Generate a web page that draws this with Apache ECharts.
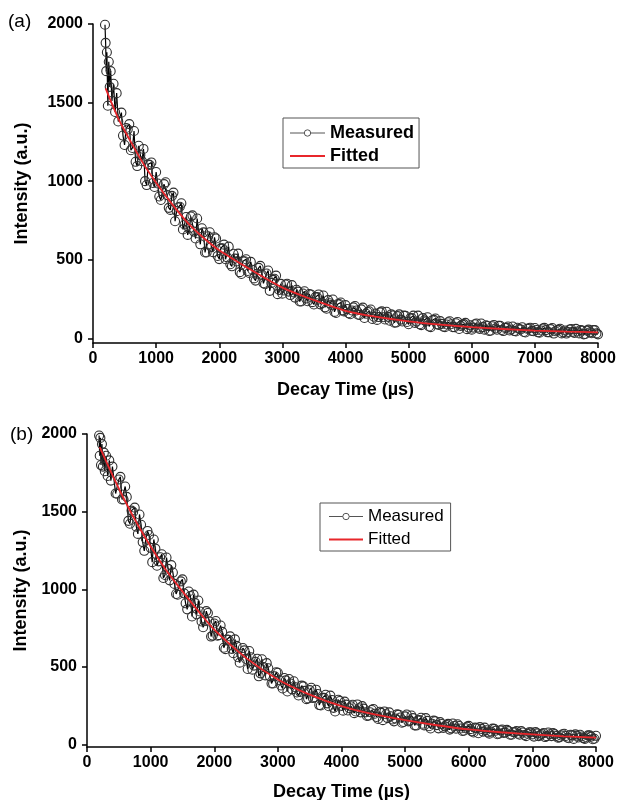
<!DOCTYPE html>
<html>
<head>
<meta charset="utf-8">
<script src="https://cdn.jsdelivr.net/npm/echarts@6/dist/echarts.min.js"></script>
<style>
    html, body { margin: 0; padding: 0; background: #fff; }
    #chart { width: 617px; height: 800px; }
</style>
</head>
<body>
<div id="chart"></div>
<script>
// decay time axis (µs), shared by both measurements
const decayTime = [
    190, 200, 210, 220, 235, 250, 265, 280, 300, 325,
    350, 375, 400, 450, 500, 550, 600, 650, 700, 750,
    800, 850, 900, 950, 1000, 1050, 1100, 1150, 1200, 1250,
    1300, 1350, 1400, 1450, 1500, 1550, 1600, 1650, 1700, 1750,
    1800, 1850, 1900, 1950, 2000, 2050, 2100, 2150, 2200, 2250,
    2300, 2350, 2400, 2450, 2500, 2550, 2600, 2650, 2700, 2750,
    2800, 2850, 2900, 2950, 3000, 3050, 3100, 3150, 3200, 3250,
    3300, 3350, 3400, 3450, 3500, 3550, 3600, 3650, 3700, 3750,
    3800, 3850, 3900, 3950, 4000, 4050, 4100, 4150, 4200, 4250,
    4300, 4350, 4400, 4450, 4500, 4550, 4600, 4650, 4700, 4750,
    4800, 4850, 4900, 4950, 5000, 5050, 5100, 5150, 5200, 5250,
    5300, 5350, 5400, 5450, 5500, 5550, 5600, 5650, 5700, 5750,
    5800, 5850, 5900, 5950, 6000, 6050, 6100, 6150, 6200, 6250,
    6300, 6350, 6400, 6450, 6500, 6550, 6600, 6650, 6700, 6750,
    6800, 6850, 6900, 6950, 7000, 7050, 7100, 7150, 7200, 7250,
    7300, 7350, 7400, 7450, 7500, 7550, 7600, 7650, 7700, 7750,
    7800, 7850, 7900, 7950, 8000
]

// in-between sampling times (µs)
const decayTimeMid = [
    475, 525, 575, 625, 675, 725, 775, 825, 875, 925,
    975, 1025, 1075, 1125, 1175, 1225, 1275, 1325, 1375, 1425,
    1475, 1525, 1575, 1625, 1675, 1725, 1775, 1825, 1875, 1925,
    1975, 2025, 2075, 2125, 2175, 2225, 2275, 2325, 2375, 2425,
    2475, 2525, 2575, 2625, 2675, 2725, 2775, 2825, 2875, 2925,
    2975, 3025, 3075, 3125, 3175, 3225, 3275, 3325, 3375, 3425,
    3475, 3525, 3575, 3625, 3675, 3725, 3775, 3825, 3875, 3925,
    3975, 4025, 4075, 4125, 4175, 4225, 4275, 4325, 4375, 4425,
    4475, 4525, 4575, 4625, 4675, 4725, 4775, 4825, 4875, 4925,
    4975, 5025, 5075, 5125, 5175, 5225, 5275, 5325, 5375, 5425,
    5475, 5525, 5575, 5625, 5675, 5725, 5775, 5825, 5875, 5925,
    5975, 6025, 6075, 6125, 6175, 6225, 6275, 6325, 6375, 6425,
    6475, 6525, 6575, 6625, 6675, 6725, 6775, 6825, 6875, 6925,
    6975, 7025, 7075, 7125, 7175, 7225, 7275, 7325, 7375, 7425,
    7475, 7525, 7575, 7625, 7675, 7725, 7775, 7825, 7875, 7925,
    7975
]

// panel (a) measured intensity
const measuredA = [
    1995, 1880, 1700, 1820, 1480, 1760, 1600, 1700, 1510, 1620,
    1440, 1560, 1380, 1436, 1230, 1329, 1197, 1319, 1096, 1166,
    1205, 975, 1103, 988, 1058, 902, 935, 993, 830, 906,
    745, 832, 859, 724, 658, 775, 679, 762, 598, 674,
    546, 675, 548, 635, 504, 572, 503, 583, 458, 507,
    539, 409, 490, 428, 486, 381, 411, 461, 350, 412,
    302, 372, 399, 307, 284, 342, 297, 338, 259, 297,
    234, 299, 236, 279, 215, 262, 216, 272, 188, 223,
    247, 161, 218, 178, 211, 159, 177, 205, 150, 184,
    129, 167, 183, 137, 117, 165, 134, 169, 112, 145,
    100, 152, 107, 143, 89, 129, 98, 144, 84, 114,
    134, 71, 117, 89, 109, 74, 88, 108, 71, 96,
    59, 87, 98, 68, 55, 89, 69, 94, 55, 78,
    48, 85, 54, 79, 46, 67, 50, 75, 43, 59,
    70, 37, 62, 47, 65, 38, 50, 66, 38, 58,
    30, 51, 61, 38, 30, 56, 41, 60, 31, 49,
    27, 55, 32, 52, 25
]
const measuredAMid = [
    1290, 1338, 1363, 1211, 1123, 1225, 1127, 1000, 1107, 1119,
    963, 985, 880, 981, 911, 817, 927, 809, 837, 693,
    772, 699, 782, 635, 667, 700, 546, 649, 582, 643,
    524, 572, 596, 515, 471, 538, 489, 421, 490, 503,
    416, 436, 367, 448, 405, 344, 431, 352, 379, 281,
    346, 304, 347, 275, 292, 309, 234, 285, 253, 282,
    230, 262, 279, 225, 197, 243, 212, 168, 217, 228,
    171, 186, 153, 197, 177, 148, 195, 156, 172, 123,
    158, 135, 171, 120, 136, 152, 99, 141, 119, 144,
    104, 127, 144, 107, 89, 128, 107, 75, 115, 126,
    85, 92, 71, 102, 89, 71, 104, 79, 90, 58,
    83, 68, 94, 60, 71, 83, 47, 77, 62, 80,
    53, 66, 75, 56, 46, 67, 56, 40, 61, 67,
    45, 53, 36, 62, 52, 38, 65, 45, 55, 31,
    50, 40, 59, 34, 43, 53, 25, 49, 38, 53,
    31
]

// panel (b) measured intensity
const measuredB = [
    1990, 1860, 1975, 1800, 1935, 1790, 1880, 1760, 1860, 1730,
    1830, 1700, 1790, 1617, 1707, 1579, 1662, 1441, 1507, 1526,
    1357, 1416, 1248, 1376, 1267, 1321, 1152, 1207, 1073, 1205,
    1058, 1108, 970, 1021, 1064, 910, 986, 825, 911, 928,
    793, 795, 848, 696, 780, 701, 767, 624, 677, 697,
    589, 636, 528, 622, 552, 603, 483, 534, 440, 550,
    446, 492, 394, 440, 463, 381, 429, 342, 394, 408,
    336, 340, 375, 293, 351, 300, 354, 255, 301, 321,
    247, 288, 214, 289, 250, 277, 220, 247, 203, 259,
    208, 232, 185, 209, 230, 178, 212, 158, 196, 208,
    162, 168, 193, 141, 182, 150, 188, 124, 156, 173,
    124, 153, 104, 155, 126, 145, 108, 127, 97, 136,
    103, 120, 88, 106, 121, 86, 110, 74, 101, 110,
    79, 84, 102, 67, 92, 76, 95, 64, 80, 88,
    64, 78, 55, 80, 66, 81, 55, 69, 49, 78,
    55, 68, 45, 59, 70, 45, 64, 37, 57, 64,
    42, 46, 60, 35, 57
]
const measuredBMid = [
    1615, 1724, 1578, 1595, 1422, 1498, 1403, 1482, 1304, 1326,
    1350, 1175, 1262, 1180, 1226, 1092, 1132, 1156, 1035, 965,
    1051, 974, 871, 957, 966, 839, 857, 756, 860, 793,
    702, 796, 705, 726, 615, 675, 617, 678, 563, 585,
    607, 487, 563, 509, 553, 459, 499, 525, 440, 394,
    466, 415, 362, 414, 423, 356, 370, 317, 380, 346,
    298, 366, 305, 326, 252, 301, 266, 316, 237, 259,
    281, 219, 258, 234, 257, 214, 234, 248, 208, 187,
    223, 199, 166, 205, 214, 171, 183, 150, 195, 175,
    146, 194, 155, 171, 123, 159, 135, 171, 119, 135,
    151, 105, 133, 118, 134, 105, 120, 131, 104, 90,
    116, 100, 78, 106, 113, 84, 93, 71, 103, 90,
    71, 98, 78, 87, 64, 81, 70, 87, 62, 70,
    79, 52, 73, 62, 75, 55, 67, 75, 56, 47,
    67, 56, 41, 60, 66, 46, 53, 37, 60, 52,
    38
]

// fitted curves
const fitTime = [200, 400, 600, 800, 1000, 1250, 1500, 1750, 2000, 2500, 3000, 3500, 4000, 4500, 5000, 5500, 6000, 6500, 7000, 7500, 8000]
const fittedA = [1590, 1400, 1250, 1110, 990, 855, 735, 640, 560, 436, 322, 243, 175, 136, 108, 87, 71, 59, 49, 43, 38]
const fittedB = [1915, 1736, 1567, 1414, 1276, 1120, 987, 860, 741, 559, 420, 322, 248, 196, 158, 125, 98, 80, 66, 54, 45]

const yTicks = [0, 500, 1000, 1500, 2000]

const font = 'Arial, "Liberation Sans", Helvetica, sans-serif'
const red = '#e8262b'
const pairs = (xs, ys) => xs.map((x, i) => [x, ys[i]])
const plain = v => String(v) // no thousands separator

// merge both sampling sets in time order
function merged(values, midValues) {
    return pairs(decayTime, values)
        .concat(pairs(decayTimeMid, midValues))
        .sort((a, b) => a[0] - b[0])
}

function xAxisFor(gridIndex, nameGap) {
    return {
        type: 'value',
        gridIndex,
        min: 0,
        max: 8000,
        interval: 1000,
        name: 'Decay Time (µs)',
        nameLocation: 'middle',
        nameGap,
        nameTextStyle: { fontFamily: font, fontSize: 18, fontWeight: 'bold', color: '#000' },
        axisLine: { show: true, onZero: false, lineStyle: { color: '#000', width: 1.5 } },
        axisTick: { show: true, length: 5, lineStyle: { color: '#000', width: 1.5 } },
        axisLabel: { margin: 8, formatter: plain, fontFamily: font, fontSize: 16, fontWeight: 'bold', color: '#000' },
        splitLine: { show: false }
    }
}

function yAxisFor(gridIndex, min, nameGap) {
    return {
        type: 'value',
        gridIndex,
        min,
        max: 2000,
        name: 'Intensity (a.u.)',
        nameLocation: 'middle',
        nameRotate: 90,
        nameGap,
        nameTextStyle: { fontFamily: font, fontSize: 18, fontWeight: 'bold', color: '#000' },
        axisLine: { show: true, onZero: false, lineStyle: { color: '#000', width: 1.5 } },
        axisTick: { show: true, length: 5, customValues: yTicks, lineStyle: { color: '#000', width: 1.5 } },
        axisLabel: { margin: 10, customValues: yTicks, formatter: plain, fontFamily: font, fontSize: 16, fontWeight: 'bold', color: '#000' },
        splitLine: { show: false }
    }
}

function measuredSeries(idx, data) {
    return {
        name: 'Measured',
        type: 'line',
        xAxisIndex: idx,
        yAxisIndex: idx,
        data,
        symbol: 'circle',
        symbolSize: 9,
        itemStyle: { color: 'rgba(255,255,255,0)', borderColor: '#2e2e2e', borderWidth: 1.1 },
        lineStyle: { color: '#000', width: 1.2 },
        z: 2
    }
}

function fittedSeries(idx, values) {
    return {
        name: 'Fitted',
        type: 'line',
        xAxisIndex: idx,
        yAxisIndex: idx,
        data: pairs(fitTime, values),
        smooth: 0.3,
        symbol: 'none',
        itemStyle: { color: red },
        lineStyle: { color: red, width: 1.8 },
        z: 3
    }
}

function legendFor(left, top, fontSize, fontWeight, padding, itemGap, itemWidth) {
    return {
        left,
        top,
        orient: 'vertical',
        padding,
        itemGap,
        itemWidth,
        itemHeight: 8,
        borderColor: '#555',
        borderWidth: 1,
        selectedMode: false,
        data: [
            { name: 'Measured', itemStyle: { color: '#fff', borderColor: '#555', borderWidth: 1 }, lineStyle: { color: '#555', width: 1 } },
            { name: 'Fitted', itemStyle: { opacity: 0 }, lineStyle: { color: red, width: 2 } }
        ],
        textStyle: { fontFamily: font, fontSize, fontWeight, color: '#000' }
    }
}

const chart = echarts.init(document.getElementById('chart'))

chart.setOption({
    animation: false,
    backgroundColor: '#fff',
    grid: [
        { left: 93, right: 19, top: 24, height: 319, outerBoundsMode: 'none' },
        { left: 87, right: 21, top: 434, height: 313, outerBoundsMode: 'none' }
    ],
    xAxis: [xAxisFor(0, 38), xAxisFor(1, 36)],
    yAxis: [yAxisFor(0, -30, 62), yAxisFor(1, -15, 55)],
    legend: [
        legendFor(283, 118, 18, 'bold', [6, 5, 3, 6], 5, 35),
        legendFor(320, 503, 17, 'normal', [5, 7, 3, 8], 6, 34)
    ],
    graphic: [
        { type: 'text', left: 8, top: 12, style: { text: '(a)', font: '19px ' + font, fill: '#000' } },
        { type: 'text', left: 10, top: 425, style: { text: '(b)', font: '19px ' + font, fill: '#000' } }
    ],
    series: [
        measuredSeries(0, merged(measuredA, measuredAMid)),
        fittedSeries(0, fittedA),
        measuredSeries(1, merged(measuredB, measuredBMid)),
        fittedSeries(1, fittedB)
    ]
})
</script>
</body>
</html>
